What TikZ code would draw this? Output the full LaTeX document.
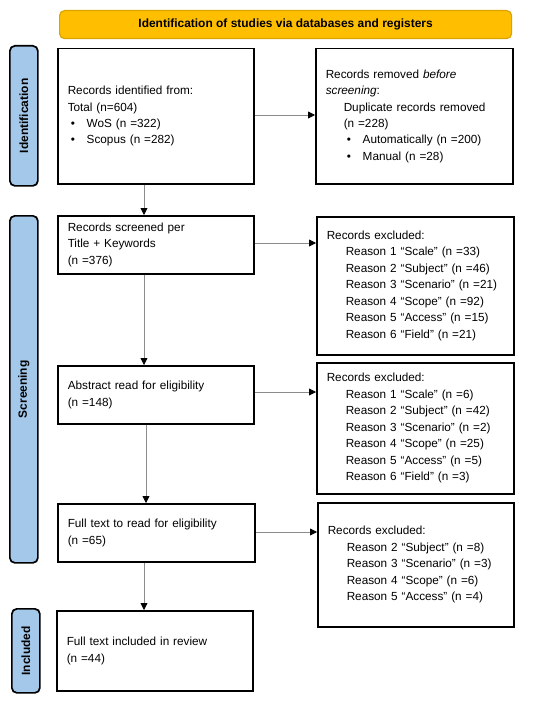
\documentclass[tikz,border=0pt]{standalone}
\usepackage{fontspec}
\setmainfont{Liberation Sans}
\usetikzlibrary{arrows.meta}
\definecolor{gold}{HTML}{FFBF00}
\definecolor{goldline}{HTML}{D9A400}
\definecolor{sideblue}{HTML}{A4C8EA}
\newcommand{\bul}[1]{\hspace*{3bp}\makebox[16bp][l]{•}#1}
\newcommand{\ind}[1]{\hspace*{19bp}#1}
\begin{document}
\begin{tikzpicture}[x=1bp,y=-1bp,
  font=\fontsize{11.8}{16.5}\selectfont,
  box/.style={draw=black,line width=1.5bp,fill=white,inner xsep=10bp,inner ysep=0bp,align=left,anchor=north west},
  side/.style={draw=black,line width=1.7bp,fill=sideblue,rounded corners=5bp,anchor=north west,inner sep=0pt},
  sidetext/.style={rotate=90,font=\fontsize{12}{14}\selectfont\bfseries},
  flow/.style={draw=gray!90,line width=0.8bp,-{Triangle[length=7bp,width=7bp,color=black]}}]
\useasboundingbox (0,0) rectangle (550,704);
% header
\node[draw=goldline,line width=1.2bp,fill=gold,rounded corners=5bp,minimum width=452bp,minimum height=28bp,anchor=north west,inner sep=0pt,font=\fontsize{12}{14}\selectfont\bfseries] (hdr) at (59,10) {Identification of studies via databases and registers};
% side bars
\node[side,minimum width=28bp,minimum height=140bp] (sid) at (9,45) {};
\node[sidetext] (sidt) at (sid.center) {Identification};
\node[side,minimum width=28bp,minimum height=347bp] (sscr) at (9,215) {};
\node[sidetext] (sscrt) at (sscr.center) {Screening};
\node[side,minimum width=28bp,minimum height=84bp] (sinc) at (11,608) {};
\node[sidetext] (sinct) at (sinc.center) {Included};
% boxes
\node[box,text width=176bp,minimum height=135bp] (b1) at (57,48) {Records identified from:\\Total (n=604)\\\bul{WoS (n =322)}\\\bul{Scopus (n =282)}};
\node[box,text width=177bp,minimum height=135bp] (b2) at (315,48) {Records removed \textit{before}\\\textit{screening}:\\\hspace*{18bp}Duplicate records removed\\\hspace*{18bp}(n =228)\\\hspace*{18bp}\bul{Automatically (n =200)}\\\hspace*{18bp}\bul{Manual (n =28)}};
\node[box,text width=176bp,minimum height=58bp] (b3) at (57,215) {Records screened per\\Title + Keywords\\(n =376)};
\node[box,text width=177bp,minimum height=138bp] (b4) at (316,216) {Records excluded:\\\ind{Reason 1 “Scale” (n =33)}\\\ind{Reason 2 “Subject” (n =46)}\\\ind{Reason 3 “Scenario” (n =21)}\\\ind{Reason 4 “Scope” (n =92)}\\\ind{Reason 5 “Access” (n =15)}\\\ind{Reason 6 “Field” (n =21)}};
\node[box,text width=176bp,minimum height=58bp] (b5) at (57,365) {Abstract read for eligibility\\(n =148)};
\node[box,text width=177bp,minimum height=131bp] (b6) at (316,362) {Records excluded:\\\ind{Reason 1 “Scale” (n =6)}\\\ind{Reason 2 “Subject” (n =42)}\\\ind{Reason 3 “Scenario” (n =2)}\\\ind{Reason 4 “Scope” (n =25)}\\\ind{Reason 5 “Access” (n =5)}\\\ind{Reason 6 “Field” (n =3)}};
\node[box,text width=177bp,minimum height=58bp] (b7) at (57,503) {Full text to read for eligibility\\(n =65)};
\node[box,text width=176bp,minimum height=124bp] (b8) at (317,502) {Records excluded:\\\ind{Reason 2 “Subject” (n =8)}\\\ind{Reason 3 “Scenario” (n =3)}\\\ind{Reason 4 “Scope” (n =6)}\\\ind{Reason 5 “Access” (n =4)}};
\node[box,text width=176bp,minimum height=80bp] (b9) at (56,610) {Full text included in review\\(n =44)};
% connectors
\draw[flow] (b1.east |- 0,115) -- (b2.west |- 0,115);
\draw[flow] (b3.east |- 0,243) -- (b4.west |- 0,243);
\draw[flow] (b5.east |- 0,392) -- (b6.west |- 0,392);
\draw[flow] (b7.east |- 0,532) -- (b8.west |- 0,532);
\draw[flow] (b1.south -| 144,0) -- (b3.north -| 144,0);
\draw[flow] (b3.south -| 144,0) -- (b5.north -| 144,0);
\draw[flow] (b5.south -| 146,0) -- (b7.north -| 146,0);
\draw[flow] (b7.south -| 144,0) -- (b9.north -| 144,0);
\end{tikzpicture}
\end{document}
